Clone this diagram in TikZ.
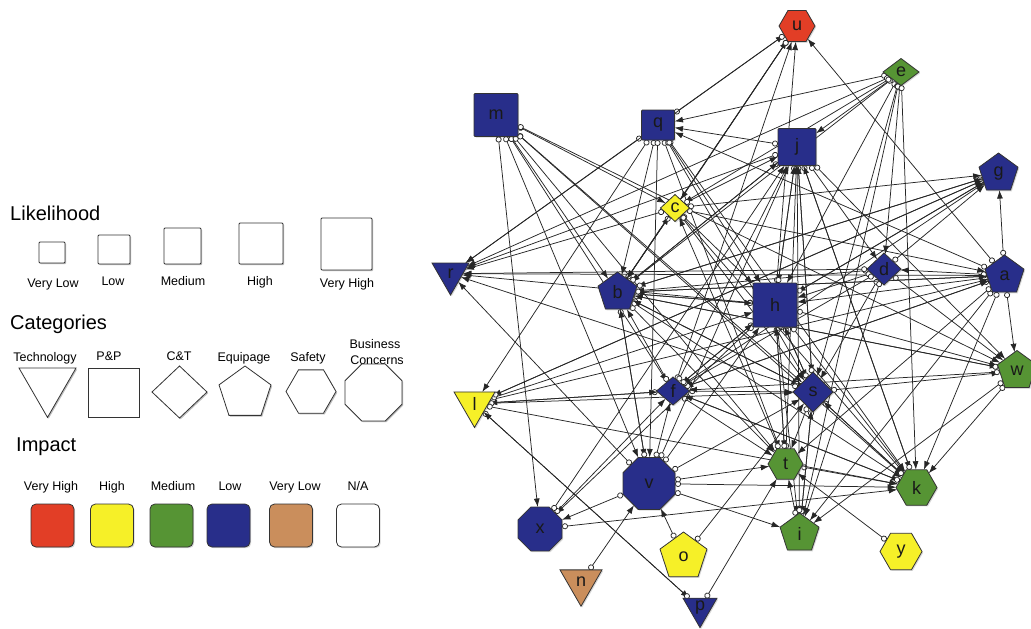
\documentclass[tikz,border=0pt]{standalone}
\usepackage{fontspec}
\setmainfont{Liberation Sans}
\usetikzlibrary{shapes.geometric,arrows.meta,shadows,backgrounds}
\definecolor{cRed}{RGB}{226,62,38}
\definecolor{cYel}{RGB}{246,240,40}
\definecolor{cGrn}{RGB}{86,148,52}
\definecolor{cBlu}{RGB}{40,46,138}
\definecolor{cTan}{RGB}{202,142,92}
\begin{document}
\begin{tikzpicture}[x=1pt,y=-1pt,
  shd/.style={drop shadow={shadow xshift=1.2pt,shadow yshift=-1.2pt,opacity=0.3}},
  gnode/.style={draw=black!80,line width=0.8pt,inner sep=0pt,outer sep=0pt,shd},
  sq/.style={gnode,rectangle,rounded corners=1pt},
  poly/.style={gnode,regular polygon,regular polygon sides=#1},
  tri/.style={gnode,regular polygon,regular polygon sides=3,shape border rotate=180},
  dia/.style={gnode,diamond},
  lab/.style={label={[font=\fontsize{18}{20}\selectfont,text=black!90,inner sep=0pt]center:#1}},
  head/.style={font=\fontsize{20}{24}\selectfont,anchor=base west,inner sep=0pt},
  small/.style={font=\fontsize{12.5}{14}\selectfont,anchor=base,inner sep=0pt},
  leg/.style={gnode,fill=white,line width=0.9pt},
  imp/.style={gnode,rectangle,rounded corners=5pt,minimum width=43pt,minimum height=43pt},
  edge/.style={draw=black!85,line width=0.75pt,arrows={Circle[length=6pt,fill=white]-Latex[length=8.5pt,width=6pt]}}
]
\useasboundingbox (0,0) rectangle (1031,629);

% ---------------- legend ----------------
\node[head] (hLik) at (10,220) {Likelihood};
\node[leg,sq,minimum width=26pt,minimum height=21pt] (L1) at (52,252.5) {};
\node[leg,sq,minimum width=32pt,minimum height=29pt] (L2) at (114,249.5) {};
\node[leg,sq,minimum width=37pt,minimum height=36pt] (L3) at (182.5,246) {};
\node[leg,sq,minimum width=44pt,minimum height=41pt] (L4) at (261,243.5) {};
\node[leg,sq,minimum width=51pt,minimum height=52pt] (L5) at (346.5,244) {};
\node[small] (tL1) at (53,287) {Very Low};
\node[small] (tL2) at (113,285.5) {Low};
\node[small] (tL3) at (183,285.5) {Medium};
\node[small] (tL4) at (260,285.5) {High};
\node[small] (tL5) at (347,287) {Very High};

\node[head] (hCat) at (10,329) {Categories};
\node[small] (tC1) at (45,361.5) {Technology};
\node[small] (tC2) at (109,360.5) {P\&P};
\node[small] (tC3) at (179,360.5) {C\&T};
\node[small] (tC4) at (244,361.5) {Equipage};
\node[small] (tC5) at (308,361.5) {Safety};
\node[small] (tC6) at (375,348.5) {Business};
\node[small] (tC7) at (377,364) {Concerns};
\node[leg,tri,minimum size=65.8pt] (C1) at (47.5,384.5) {};
\node[leg,rectangle,minimum width=51pt,minimum height=49pt] (C2) at (113.5,392.5) {};
\node[leg,dia,minimum width=55pt,minimum height=52pt] (C3) at (179.5,392) {};
\node[leg,poly=5,minimum size=54.6pt] (C4) at (245,393.3) {};
\node[leg,poly=6,minimum size=50pt] (C5) at (311,391.5) {};
\node[leg,poly=8,minimum size=61.7pt] (C6) at (373.5,392.5) {};

\node[head] (hImp) at (16,451.5) {Impact};
\node[small] (tI1) at (51,490) {Very High};
\node[small] (tI2) at (112,490) {High};
\node[small] (tI3) at (173,490) {Medium};
\node[small] (tI4) at (230,490) {Low};
\node[small] (tI5) at (295,490) {Very Low};
\node[small] (tI6) at (358,490) {N/A};
\node[imp,fill=cRed] (I1) at (52.5,525.5) {};
\node[imp,fill=cYel] (I2) at (112,525.5) {};
\node[imp,fill=cGrn] (I3) at (171.5,525.5) {};
\node[imp,fill=cBlu] (I4) at (228.5,525.5) {};
\node[imp,fill=cTan] (I5) at (291,525.5) {};
\node[imp,fill=white] (I6) at (358,525.5) {};

% ---------------- graph nodes ----------------
\node[poly=6,fill=cRed,minimum size=36pt,lab=u] (Nu) at (797,26) {};
\node[dia,fill=cGrn,minimum width=36pt,minimum height=27pt,lab=e] (Ne) at (901,72) {};
\node[sq,fill=cBlu,minimum width=44pt,minimum height=43pt,lab=m] (Nm) at (496,115) {};
\node[sq,fill=cBlu,minimum width=33pt,minimum height=30pt,lab=q] (Nq) at (658,125) {};
\node[sq,fill=cBlu,minimum width=38pt,minimum height=37pt,lab=j] (Nj) at (797,147) {};
\node[dia,fill=cYel,minimum width=29pt,minimum height=27pt,lab=c] (Nc) at (675,208) {};
\node[poly=5,fill=cBlu,minimum size=41pt,lab=g] (Ng) at (998.5,173.5) {};
\node[tri,fill=cBlu,minimum size=42.7pt,lab=r] (Nr) at (450.5,273.7) {};
\node[poly=5,fill=cBlu,minimum size=41pt,lab=b] (Nb) at (617.5,292.5) {};
\node[dia,fill=cBlu,minimum width=34pt,minimum height=32pt,lab=d] (Nd) at (884,269) {};
\node[poly=5,fill=cBlu,minimum size=41pt,lab=a] (Na) at (1004.5,275.5) {};
\node[sq,fill=cBlu,minimum width=44pt,minimum height=44pt,lab=h] (Nh) at (775,305) {};
\node[poly=5,fill=cGrn,minimum size=41pt,lab=w] (Nw) at (1017,371) {};
\node[dia,fill=cBlu,minimum width=33pt,minimum height=28pt,lab=f] (Nf) at (673,391) {};
\node[dia,fill=cBlu,minimum width=40pt,minimum height=40pt,lab=s] (Ns) at (813,392) {};
\node[tri,fill=cYel,minimum size=47.3pt,lab=l] (Nl) at (474.5,403.8) {};
\node[poly=6,fill=cGrn,minimum size=35pt,lab=t] (Nt) at (785.5,464) {};
\node[poly=6,fill=cGrn,minimum size=41pt,lab=k] (Nk) at (916.5,487.5) {};
\node[poly=8,fill=cBlu,minimum size=56.3pt,lab=v] (Nv) at (649,483.5) {};
\node[poly=8,fill=cBlu,minimum size=47.6pt,lab=x] (Nx) at (540,529) {};
\node[poly=5,fill=cGrn,minimum size=41pt,lab=i] (Ni) at (799.5,533.5) {};
\node[poly=5,fill=cYel,minimum size=49.4pt,lab=o] (No) at (683.5,556.7) {};
\node[poly=6,fill=cYel,minimum size=42pt,lab=y] (Ny) at (901,551.5) {};
\node[tri,fill=cTan,minimum size=48.5pt,lab=n] (Nn) at (581,582) {};
\node[tri,fill=cBlu,minimum size=39.3pt,lab=p] (Np) at (700,608) {};

% ---------------- connectors ----------------
\begin{pgfonlayer}{background}
\foreach \s/\t in {
 m/x, m/v, m/b, m/f, m/t, m/c, m/s, m/w, m/k,
 q/r, q/l, q/b, q/v, q/t, q/s, q/u, q/k, q/h,
 j/r, j/h, j/b, j/s, j/d, j/k, j/w, j/q,
 e/q, e/j, e/h, e/b, e/r, e/d, e/s, e/i, e/k, e/c,
 a/g, a/w, a/k, a/i, a/u, a/b, a/h, a/r, a/f, a/d, a/t, a/q,
 d/g, d/b, d/h, d/s, d/w, d/i, d/f, d/r,
 g/h, g/b, g/l,
 h/r, h/b, h/s, h/t, h/k, h/w, h/g, h/f, h/u, h/x, h/i, h/j,
 b/h, b/u, b/c, b/s, b/t, b/k, b/w, b/a, b/v, b/j, b/g,
 c/r, c/b, c/h, c/s, c/k, c/a, c/g, c/j,
 f/s, f/b, f/l, f/u, f/j, f/a, f/g, f/k, f/t, f/h,
 s/t, s/i, s/b, s/h, s/j, s/w, s/r, s/k,
 t/j, t/h, t/c, t/k,
 k/s, k/j, k/f,
 w/k, w/i, w/b, w/f,
 v/x, v/k, v/i, v/t, v/s, v/h, v/j, v/f, v/b, v/r,
 x/f, x/k, x/j,
 l/f, l/a, l/s, l/h, l/p, l/k, l/g,
 n/v, o/v, o/s, y/t, p/l, p/t,
 i/s, i/t, i/j,
 u/r, u/b, u/c}
  \draw[edge] (N\s) -- (N\t);
\end{pgfonlayer}
\end{tikzpicture}
\end{document}
